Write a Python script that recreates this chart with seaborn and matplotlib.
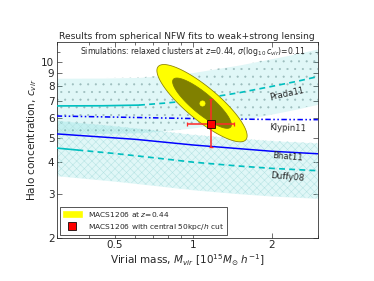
import numpy as np
import pandas as pd
import matplotlib
matplotlib.use("Agg")
import matplotlib.pyplot as plt
import seaborn as sns
from matplotlib.patches import Patch
from matplotlib.lines import Line2D
from matplotlib.ticker import FixedLocator, NullFormatter

# model c-M relations
prada_m = [0.3, 0.45, 0.62, 0.8, 1.0, 1.5, 2.0, 2.5, 3.0]
prada_c = [6.69, 6.70, 6.74, 6.88, 7.05, 7.55, 8.0, 8.38, 8.75]
prada_break = 0.62
duffy_m = [0.3, 0.36, 0.5, 0.7, 1.0, 1.5, 2.0, 3.0]
duffy_c = [4.55, 4.47, 4.33, 4.17, 4.0, 3.86, 3.78, 3.70]
duffy_break = 0.36
bhat_m = [0.3, 0.6, 1.0, 2.0, 3.0]
bhat_c = [5.18, 4.93, 4.68, 4.42, 4.32]
klypin_m = [0.3, 0.6, 1.0, 2.0, 3.0]
klypin_c = [6.1, 6.02, 5.96, 5.91, 5.9]
sigma_logc = 0.11

# MACS1206 constraints
fit_m, fit_c = 1.076, 6.90
ell_center = (1.08, 6.86)
ell_semi_major = [0.222, 0.145]   # dex
ell_semi_minor = [0.064, 0.040]   # dex
ell_angle = -41.0                 # deg in log-log space
cut_m, cut_c = 1.17, 5.68
cut_m_err = [0.222, 0.26]
cut_c_err = [1.10, 1.44]

sns.set_style("ticks")
plt.rcParams["font.family"] = ["DejaVu Sans"]
plt.rcParams["hatch.linewidth"] = 0.8

fig = plt.figure(figsize=(8, 6.0107), dpi=46.75)
ax = fig.add_axes([0.1516, 0.153, 0.6984, 0.6975])
ax.set_xscale("log")
ax.set_yscale("log")

pm = np.array(prada_m)
pc = np.array(prada_c)
dm = np.array(duffy_m)
dc = np.array(duffy_c)
f = 10 ** sigma_logc

# scatter bands
ax.fill_between(pm, pc / f, pc * f, color="c", alpha=0.12, lw=0, zorder=1)
ax.fill_between(pm, pc / f, pc * f, facecolor="none", edgecolor="#9bbcbc", hatch=".", lw=0, zorder=1)
ax.fill_between(dm, dc / f, dc * f, color="c", alpha=0.12, lw=0, zorder=1)
ax.fill_between(dm, dc / f, dc * f, facecolor="none", edgecolor="#b5e3e3", hatch="xx", lw=0, zorder=1)

# lines
lc = "#00bfbf"
sns.lineplot(x=pm[pm <= prada_break], y=pc[pm <= prada_break], color=lc, lw=2.6, ax=ax, zorder=3)
sns.lineplot(x=pm[pm >= prada_break], y=pc[pm >= prada_break], color=lc, lw=2.6, dashes=(3.5, 2.5), ax=ax, zorder=3)
sns.lineplot(x=dm[dm <= duffy_break], y=dc[dm <= duffy_break], color=lc, lw=2.6, ax=ax, zorder=3)
sns.lineplot(x=dm[dm >= duffy_break], y=dc[dm >= duffy_break], color=lc, lw=2.6, dashes=(3.5, 2.5), ax=ax, zorder=3)
sns.lineplot(x=bhat_m, y=bhat_c, color="b", lw=2.3, ax=ax, zorder=3)
sns.lineplot(x=klypin_m, y=klypin_c, color="b", lw=2.4, dashes=(3.5, 1.6, 1, 1.6, 1, 1.6), ax=ax, zorder=3)

# confidence ellipses (log space)
t = np.linspace(0, 2 * np.pi, 200)
th = np.radians(ell_angle)
for a, b, fc, ec in zip(ell_semi_major, ell_semi_minor, ["yellow", "olive"], ["#8a8000", "olive"]):
    lx = np.log10(ell_center[0]) + a * np.cos(t) * np.cos(th) - b * np.sin(t) * np.sin(th)
    ly = np.log10(ell_center[1]) + a * np.cos(t) * np.sin(th) + b * np.sin(t) * np.cos(th)
    ax.fill(10 ** lx, 10 ** ly, facecolor=fc, edgecolor=ec, lw=1.2, zorder=4)

ax.plot(fit_m, fit_c, "o", color="yellow", ms=8, mec="yellow", zorder=5)
ax.errorbar(cut_m, cut_c, xerr=[[cut_m_err[0]], [cut_m_err[1]]], yerr=[[cut_c_err[0]], [cut_c_err[1]]],
            fmt="none", ecolor="#ff2a2a", elinewidth=2.4, capsize=3.5, capthick=2, zorder=5)
ax.plot(cut_m, cut_c, "s", color="red", mec="black", mew=1.2, ms=11, zorder=6)

# line labels
ax.text(2.29, 7.45, "Prada11", fontsize=13, rotation=12, ha="center", va="center", zorder=6)
ax.text(2.29, 5.48, "Klypin11", fontsize=13, rotation=-2, ha="center", va="center", zorder=6)
ax.text(2.29, 4.19, "Bhat11", fontsize=13, rotation=-5, ha="center", va="center", zorder=6)
ax.text(2.29, 3.50, "Duffy08", fontsize=13, rotation=-5, ha="center", va="center", zorder=6)

ax.text(0.52, 0.95, r"Simulations: relaxed clusters at $z$=0.44, $\sigma(\log_{10}c_{vir})$=0.11",
        transform=ax.transAxes, ha="center", va="center", fontsize=12)

ax.set_xlim(0.3, 3)
ax.set_ylim(2, 12)
ax.xaxis.set_major_locator(FixedLocator([0.5, 1, 2]))
ax.xaxis.set_minor_locator(FixedLocator([0.3, 0.4, 0.6, 0.7, 0.8, 0.9, 3]))
ax.set_xticklabels(["0.5", "1", "2"])
ax.xaxis.set_minor_formatter(NullFormatter())
ax.yaxis.set_major_locator(FixedLocator([2, 3, 4, 5, 6, 7, 8, 9, 10]))
ax.yaxis.set_minor_locator(FixedLocator([11]))
ax.set_yticklabels(["2", "3", "4", "5", "6", "7", "8", "9", "10"])
ax.yaxis.set_minor_formatter(NullFormatter())
ax.tick_params(which="both", direction="in", top=True, right=True, labelsize=16, width=1)
ax.tick_params(which="major", length=7)
ax.tick_params(which="minor", length=5)
for s in ax.spines.values():
    s.set_linewidth(1.2)

ax.set_title("Results from spherical NFW fits to weak+strong lensing", fontsize=14, pad=4)
ax.set_xlabel(r"Virial mass, $M_{vir}$ [$10^{15}M_{\odot}\ h^{-1}$]", fontsize=16)
ax.set_ylabel(r"Halo concentration, $c_{vir}$", fontsize=16)

handles = [Patch(facecolor="yellow", edgecolor="yellow"),
           Line2D([], [], marker="s", color="red", mec="black", mew=1.2, ms=11, ls="none")]
ax.legend(handles, ["MACS1206 at $z$=0.44", "MACS1206 with central 50kpc/$h$ cut"],
          loc="lower left", fontsize=11.5, fancybox=False, framealpha=1, edgecolor="black",
          handlelength=2.6, labelspacing=0.45, borderaxespad=0.4)

fig.savefig("out.png", dpi=46.75)
